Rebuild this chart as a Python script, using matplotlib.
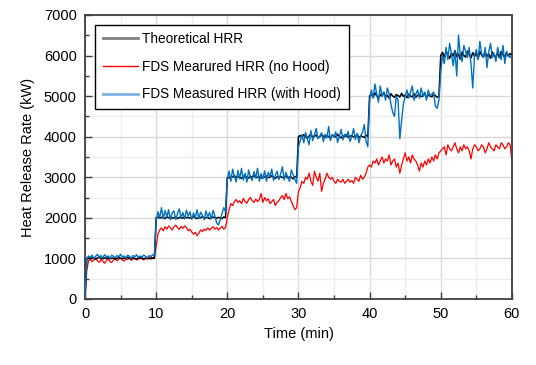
import matplotlib
matplotlib.use("Agg")
import matplotlib.pyplot as plt
from matplotlib.lines import Line2D
from matplotlib.ticker import MultipleLocator
import numpy as np

# time axis (min), one reading every 0.25 min
time_min = np.arange(0, 60.01, 0.25)

# theoretical HRR (kW), per 10 min block
theo_0 = [0, 1000, 1010, 990, 1020, 1000, 980, 1010, 1030, 1000, 990, 1010, 1000, 1020, 990, 1000, 1010, 980, 1000, 1020,
          1000, 990, 1010, 1000, 1030, 1000, 990, 1010, 1000, 980, 1020, 1000, 1010, 990, 1000, 1020, 1000, 990, 1010, 1000]
theo_1 = [2000, 2020, 1990, 2010, 2000, 1980, 2030, 2000, 2010, 1990, 2000, 2020, 1980, 2010, 2000, 1990, 2030, 2000, 2010, 1990,
          2000, 2020, 2000, 1980, 2010, 2000, 2030, 1990, 2000, 2010, 1980, 2000, 2020, 2000, 1990, 2010, 2000, 1980, 2020, 2000]
theo_2 = [3000, 2980, 3020, 3000, 3040, 2990, 3010, 3000, 2970, 3030, 3000, 3010, 2980, 3020, 3000, 3050, 2990, 3000, 3020, 2980,
          3010, 3000, 3030, 2990, 3000, 3040, 3000, 2970, 3010, 3000, 3020, 2990, 3000, 3030, 2980, 3010, 3000, 2960, 3020, 3000]
theo_3 = [4000, 4030, 3980, 4050, 4000, 3960, 4020, 4060, 3990, 4010, 4040, 3970, 4000, 4050, 4010, 3980, 4030, 4000, 3960, 4040,
          4010, 3990, 4060, 4000, 3970, 4020, 4000, 4050, 3980, 4010, 4030, 3990, 4000, 4060, 3970, 4020, 4000, 3980, 4040, 4000]
theo_4 = [5000, 5050, 4970, 5080, 5010, 4960, 5040, 5000, 5090, 4980, 5020, 4950, 5060, 5000, 4970, 5040, 5010, 4980, 5070, 4990,
          5030, 4960, 5050, 5000, 4980, 5060, 4970, 5020, 5040, 4990, 5000, 5070, 4960, 5030, 5000, 4980, 5050, 5010, 4970, 5000]
theo_5 = [6000, 6080, 5950, 6100, 6020, 5930, 6060, 5990, 6120, 5970, 6040, 5910, 6090, 6000, 5960, 6110, 6030, 5940, 6070, 5990,
          6050, 5920, 6100, 6010, 5960, 6080, 5980, 6040, 5930, 6090, 6000, 5970, 6060, 5950, 6100, 6020, 5960, 6070, 5990, 6050, 6000]

# FDS, no hood (kW)
nohood_0 = [0, 700, 950, 980, 920, 960, 1000, 940, 900, 970, 930, 880, 950, 990, 920, 900, 960, 1000, 940, 980,
            1010, 960, 930, 990, 970, 1020, 950, 990, 1000, 960, 980, 1030, 990, 960, 1010, 980, 1000, 1040, 990, 1020]
nohood_1 = [1300, 1600, 1700, 1750, 1680, 1780, 1720, 1800, 1750, 1700, 1780, 1820, 1760, 1710, 1790, 1740, 1800, 1760, 1680, 1720,
            1650, 1600, 1640, 1560, 1620, 1700, 1660, 1720, 1690, 1750, 1700, 1740, 1780, 1720, 1760, 1700, 1740, 1790, 1720, 1760]
nohood_2 = [2000, 2200, 2350, 2300, 2400, 2450, 2380, 2420, 2350, 2480, 2400, 2360, 2450, 2500, 2420, 2380, 2460, 2400, 2450, 2600,
            2380, 2500, 2420, 2470, 2350, 2400, 2450, 2300, 2380, 2420, 2500, 2550, 2450, 2600, 2470, 2520, 2400, 2300, 2200, 2250]
nohood_3 = [2650, 2750, 2900, 2850, 3000, 2950, 3100, 2900, 2800, 3150, 3000, 2900, 3100, 2650, 2850, 2950, 3100, 3000, 2950, 3000,
            2900, 2850, 2950, 2900, 2880, 2950, 2850, 2900, 2950, 2880, 2920, 2850, 3000, 2950, 2900, 3050, 2950, 3000, 3100, 3250]
nohood_4 = [3300, 3250, 3400, 3350, 3450, 3300, 3400, 3500, 3350, 3450, 3400, 3550, 3300, 3400, 3450, 3250, 3350, 3100, 3300, 3450,
            3600, 3400, 3500, 3350, 3550, 3450, 3400, 3300, 3150, 3350, 3250, 3400, 3300, 3450, 3350, 3500, 3400, 3550, 3450, 3600]
nohood_5 = [3650, 3700, 3750, 3550, 3800, 3700, 3650, 3750, 3850, 3700, 3600, 3750, 3650, 3800, 3700, 3750, 3650, 3450, 3700, 3800,
            3750, 3650, 3700, 3800, 3750, 3600, 3700, 3850, 3750, 3700, 3650, 3800, 3750, 3700, 3850, 3800, 3700, 3750, 3850, 3800, 3400]

# FDS, with hood (kW)
hood_0 = [0, 1000, 1060, 1020, 1080, 1000, 1050, 1100, 1030, 1070, 1010, 1090, 1040, 1060, 1000, 1080, 1050, 1020, 1070, 1040,
          1100, 1030, 1060, 1010, 1080, 1050, 1000, 1070, 1040, 1090, 1020, 1060, 1030, 1080, 1050, 1010, 1070, 1040, 1090, 1060]
hood_1 = [1900, 2150, 2000, 2250, 1980, 2180, 2020, 2200, 1950, 2120, 2170, 1960, 2100, 2220, 2000, 2130, 1970, 2190, 2040, 2150,
          1960, 2120, 2000, 2200, 1980, 2140, 2060, 1950, 2170, 2010, 2130, 1970, 2180, 2050, 1880, 1820, 1950, 2100, 2250, 2150]
hood_2 = [2950, 3150, 2900, 3200, 3020, 2880, 3170, 2960, 3220, 2930, 3100, 2880, 3180, 3000, 2920, 3140, 2980, 3220, 2900, 3090,
          2960, 3160, 2900, 3120, 3010, 3200, 2920, 3050, 3150, 2940, 3080, 3260, 2930, 3120, 2990, 2900, 3180, 3060, 2950, 2850]
hood_3 = [3750, 3900, 4050, 3850, 4100, 3950, 3800, 4150, 3900, 4050, 4200, 3950, 4000, 4100, 3880, 4060, 3970, 4250, 3900, 4050,
          3980, 4120, 3860, 4000, 4180, 3920, 4060, 3990, 4130, 3880, 4000, 4200, 3930, 4080, 3850, 4020, 4100, 4300, 3900, 3750]
hood_4 = [4900, 5150, 4950, 5300, 5050, 4850, 5250, 5000, 5100, 4900, 5200, 5050, 4800, 4600, 4500, 5000, 4900, 3950, 4400, 4800,
          5000, 5150, 4950, 5100, 5250, 4900, 5050, 5150, 4950, 5200, 5000, 5100, 4900, 5150, 5000, 5050, 5100, 4750, 4700, 4900]
hood_5 = [5600, 6000, 5800, 6200, 5900, 6300, 6050, 5750, 6100, 5500, 6500, 6000, 5850, 6250, 6100, 5950, 6200, 5800, 5200, 6000,
          6150, 5900, 6350, 6050, 5950, 6200, 5700, 6100, 6300, 5950, 6050, 5850, 6200, 6000, 5900, 6250, 5800, 6100, 6000, 5950, 6000]

theoretical = np.array(theo_0 + theo_1 + theo_2 + theo_3 + theo_4 + theo_5)
no_hood = np.array(nohood_0 + nohood_1 + nohood_2 + nohood_3 + nohood_4 + nohood_5)
with_hood = np.array(hood_0 + hood_1 + hood_2 + hood_3 + hood_4 + hood_5)

plt.rcParams["font.family"] = ["Liberation Sans", "DejaVu Sans"]
plt.rcParams["font.size"] = 10.5

fig = plt.figure(figsize=(5.36, 3.65), dpi=100)
ax = fig.add_axes([0.1586, 0.181, 0.7964, 0.778])

ax.plot(time_min, theoretical, color="black", lw=1.1, zorder=3)
ax.plot(time_min, no_hood, color="#FF0000", lw=0.9, zorder=2)
ax.plot(time_min, with_hood, color="#0070C0", lw=1.0, zorder=4)

ax.set_xlim(0, 60)
ax.set_ylim(0, 7000)
ax.xaxis.set_major_locator(MultipleLocator(10))
ax.xaxis.set_minor_locator(MultipleLocator(5))
ax.yaxis.set_major_locator(MultipleLocator(1000))
ax.yaxis.set_minor_locator(MultipleLocator(500))
ax.grid(which="major", color="#d9d9d9", lw=1.0, zorder=0)
ax.grid(which="minor", color="#eeeeee", lw=1.0, zorder=0)
ax.set_axisbelow(True)
ax.tick_params(which="major", direction="in", length=5, width=1, color="#404040", pad=6)
ax.tick_params(which="minor", direction="in", length=3, width=1, color="#404040")
for s in ax.spines.values():
    s.set_color("#404040")
    s.set_linewidth(1.3)

ax.set_xlabel("Time (min)", labelpad=4)
ax.set_ylabel("Heat Release Rate (kW)", labelpad=6)

handles = [Line2D([], [], color="#808080", lw=2),
           Line2D([], [], color="#FF0000", lw=1),
           Line2D([], [], color="#7fb2e0", lw=2)]
labels = ["Theoretical HRR", "FDS Mearured HRR (no Hood)", "FDS Measured HRR (with Hood)"]
leg = ax.legend(handles, labels, loc="upper left", bbox_to_anchor=(0.008, 0.99), fontsize=9.8,
                frameon=True, fancybox=False, edgecolor="black", framealpha=1,
                handlelength=2.6, handletextpad=0.3, labelspacing=1.0, borderpad=0.55)
leg.get_frame().set_linewidth(1.0)

fig.savefig("out.png", dpi=100)
